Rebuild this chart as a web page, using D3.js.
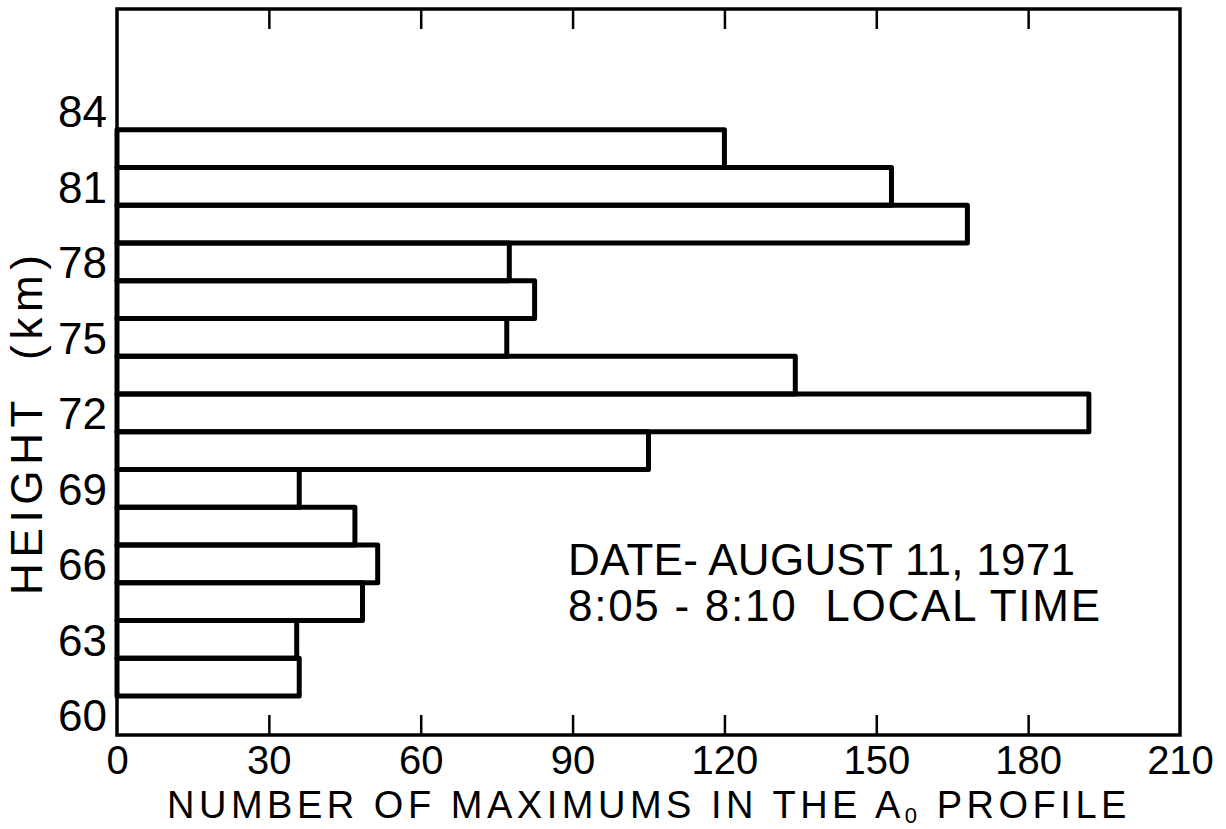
<!DOCTYPE html>
<html>
<head>
<meta charset="utf-8">
<script src="https://cdn.jsdelivr.net/npm/d3@7"></script>
<style>
  html, body { margin: 0; padding: 0; background: #fff; }
  svg { display: block; }
  text { font-family: "Liberation Sans", Arial, sans-serif; fill: #000; }
</style>
</head>
<body>
<svg id="chart" width="1226" height="829"></svg>
<script>
// ---- data ----
const heightBins = [61.5, 63, 64.5, 66, 67.5, 69, 70.5, 72, 73.5, 75, 76.5, 78, 79.5, 81, 82.5];
const maxCounts  = [36, 35.5, 48.5, 51.5, 47, 36, 105, 192, 134, 77, 82.5, 77.5, 168, 153, 120];
const binWidth = 1.5;
const xTickLabels = [0, 30, 60, 90, 120, 150, 180, 210];
const xTickMarks = [30, 60, 90, 120, 150, 180];
const yTickLabels = [60, 63, 66, 69, 72, 75, 78, 81, 84];
const annotationLines = ["DATE- AUGUST 11, 1971", "8:05 - 8:10  LOCAL TIME"];

// ---- layout ----
const L = 117, R = 1180, T = 9, B = 735;
const svg = d3.select("#chart");
const x = d3.scaleLinear().domain([0, 210]).range([L, R]);
const y = d3.scaleLinear().domain([59.2, 88.05]).range([B, T]);

// bars
const bars = heightBins.map((h, i) => ({h, v: maxCounts[i]}));
svg.append("g").selectAll("rect").data(bars).join("rect")
  .attr("x", x(0))
  .attr("y", d => y(d.h + binWidth / 2))
  .attr("width", d => x(d.v) - x(0))
  .attr("height", d => y(d.h - binWidth / 2) - y(d.h + binWidth / 2))
  .attr("fill", "none")
  .attr("stroke", "#000")
  .attr("stroke-width", 5)
  .attr("stroke-linejoin", "round");

// frame
svg.append("rect")
  .attr("x", L).attr("y", T).attr("width", R - L).attr("height", B - T)
  .attr("fill", "none").attr("stroke", "#000").attr("stroke-width", 3.5);

// bottom axis (ticks inward + labels)
const gb = svg.append("g").attr("transform", `translate(0,${B})`)
  .call(d3.axisBottom(x).tickValues(xTickLabels).tickSizeInner(-20).tickSizeOuter(0));
gb.select(".domain").remove();
gb.selectAll(".tick line").attr("stroke", "#000").attr("stroke-width", 2.5)
  .attr("opacity", d => xTickMarks.includes(d) ? 1 : 0);
gb.selectAll(".tick text").attr("font-size", 40).attr("y", 39).attr("dy", 0)
  .attr("font-family", "Liberation Sans, Arial, sans-serif");

// top axis ticks
const gt = svg.append("g").attr("transform", `translate(0,${T})`)
  .call(d3.axisTop(x).tickValues(xTickMarks).tickSizeInner(-20).tickSizeOuter(0).tickFormat(""));
gt.select(".domain").remove();
gt.selectAll(".tick line").attr("stroke", "#000").attr("stroke-width", 2.5);

// left axis labels
const gl = svg.append("g").attr("transform", `translate(${L},0)`)
  .call(d3.axisLeft(y).tickValues(yTickLabels).tickSize(0).tickPadding(10));
gl.select(".domain").remove();
gl.selectAll(".tick text").attr("font-size", 44).attr("dy", "0.36em")
  .attr("font-family", "Liberation Sans, Arial, sans-serif");

// x axis title with subscript
const xt = svg.append("text")
  .attr("x", 167).attr("y", 818)
  .attr("font-size", 38);
xt.append("tspan").text("NUMBER OF MAXIMUMS IN THE A");
xt.append("tspan").attr("font-size", 22).attr("dy", 5).text("0");
xt.append("tspan").attr("dy", -5).text(" PROFILE");
{
  const w = xt.node().getBBox().width;
  const n = "NUMBER OF MAXIMUMS IN THE A0 PROFILE".length;
  xt.attr("letter-spacing", ((964 - w) / n).toFixed(2));
}

// y axis title
svg.append("text")
  .attr("transform", "translate(42,425) rotate(-90)")
  .attr("text-anchor", "middle")
  .attr("font-size", 44)
  .attr("textLength", 340)
  .attr("lengthAdjust", "spacing")
  .style("white-space", "pre")
  .text("HEIGHT  (km)");

// annotation
const annW = [507, 532];
const annY = [575, 621];
annotationLines.forEach((s, i) => {
  svg.append("text")
    .attr("x", 568).attr("y", annY[i])
    .attr("font-size", 44)
    .attr("textLength", annW[i])
    .attr("lengthAdjust", "spacing")
    .style("white-space", "pre")
    .text(s);
});
</script>
</body>
</html>
